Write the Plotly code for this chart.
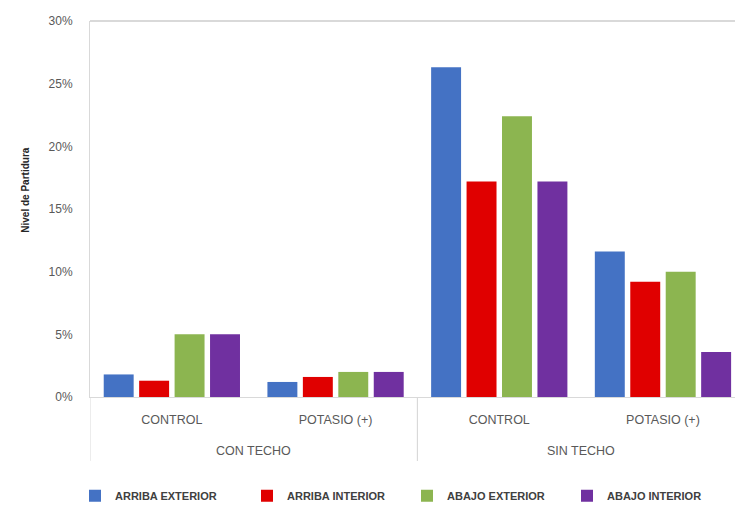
import plotly.graph_objects as go

# Grouping of the x axis: outer level (roof) and inner level (treatment)
techo = ["CON TECHO", "CON TECHO", "SIN TECHO", "SIN TECHO"]
tratamiento = ["CONTROL", "POTASIO (+)", "CONTROL", "POTASIO (+)"]

# Splitting level (fraction) per fruit position
arriba_exterior = [0.018, 0.012, 0.263, 0.116]
arriba_interior = [0.013, 0.016, 0.172, 0.092]
abajo_exterior = [0.050, 0.020, 0.224, 0.100]
abajo_interior = [0.050, 0.020, 0.172, 0.036]

series = [
    ("ARRIBA EXTERIOR", arriba_exterior, "#4472C4"),
    ("ARRIBA INTERIOR", arriba_interior, "#E00000"),
    ("ABAJO EXTERIOR", abajo_exterior, "#8CB550"),
    ("ABAJO INTERIOR", abajo_interior, "#7030A0"),
]

y_ticks = [0, 0.05, 0.10, 0.15, 0.20, 0.25, 0.30]

FONT = "Liberation Sans, Arial, sans-serif"
AXIS_GREY = "#D9D9D9"
positions = list(range(len(tratamiento)))

# Left edge (px) of each legend entry along the bottom row
legend_left_px = [75, 247, 407, 567]

fig = go.Figure()
legend_layouts = {}
for k, (name, vals, color) in enumerate(series):
    legend_id = "legend" if k == 0 else f"legend{k + 1}"
    fig.add_trace(go.Bar(
        x=positions,
        y=vals,
        name=name,
        legend=legend_id,
        marker=dict(color=color, line=dict(width=0)),
    ))
    legend_layouts[legend_id] = dict(
        orientation="h",
        xref="container",
        yref="container",
        x=legend_left_px[k] / 735,
        y=0.028,
        xanchor="left",
        yanchor="middle",
        itemwidth=30,
        bgcolor="rgba(0,0,0,0)",
        font=dict(family=FONT, size=11, color="#404040", weight="bold"),
    )

fig.update_layout(
    width=735,
    height=510,
    margin=dict(l=90, r=0, t=21, b=113),
    paper_bgcolor="white",
    plot_bgcolor="white",
    barmode="group",
    bargap=0.134,
    bargroupgap=0.155,
    showlegend=True,
    xaxis=dict(
        range=[-0.5, 3.44],
        tickvals=positions,
        ticktext=tratamiento,
        showline=True,
        linecolor=AXIS_GREY,
        linewidth=1,
        showgrid=False,
        zeroline=False,
        ticks="",
        ticklabelstandoff=11,
        tickfont=dict(family=FONT, size=12.5, color="#595959"),
    ),
    yaxis=dict(
        range=[0, 0.30],
        tickvals=y_ticks,
        tickformat=".0%",
        showgrid=False,
        zeroline=False,
        showline=True,
        linecolor=AXIS_GREY,
        linewidth=1,
        ticks="",
        tickfont=dict(family=FONT, size=12, color="#595959"),
        ticklabelstandoff=14,
    ),
    **legend_layouts,
)

# Axis title
fig.add_annotation(
    text="<b>Nivel de Partidura</b>", textangle=-90,
    xref="paper", yref="paper", x=-0.1, y=0.55,
    xanchor="center", yanchor="middle", showarrow=False,
    font=dict(family=FONT, size=10, color="#262626"),
)

# Outer category labels, centred under each pair of treatments
groups = []
for i, g in enumerate(techo):
    if not groups or groups[-1][0] != g:
        groups.append([g, i, i])
    else:
        groups[-1][2] = i
for g, first, last in groups:
    fig.add_annotation(
        text=g, xref="x", yref="paper", x=(first + last) / 2, y=0,
        yshift=-54, yanchor="middle", showarrow=False,
        font=dict(family=FONT, size=12.5, color="#595959"),
    )

# Group dividers running down through the label area
for g, first, last in groups:
    for edge in (first - 0.5, last + 0.5):
        fig.add_shape(type="line", xref="x", yref="paper", x0=edge, x1=edge,
                      y0=0, y1=-0.17, line=dict(color=AXIS_GREY, width=1))

# Top border of the plot area
fig.add_shape(type="line", xref="paper", yref="paper", x0=0, x1=1, y0=1, y1=1,
              line=dict(color=AXIS_GREY, width=2))

fig.write_html("out.html")
